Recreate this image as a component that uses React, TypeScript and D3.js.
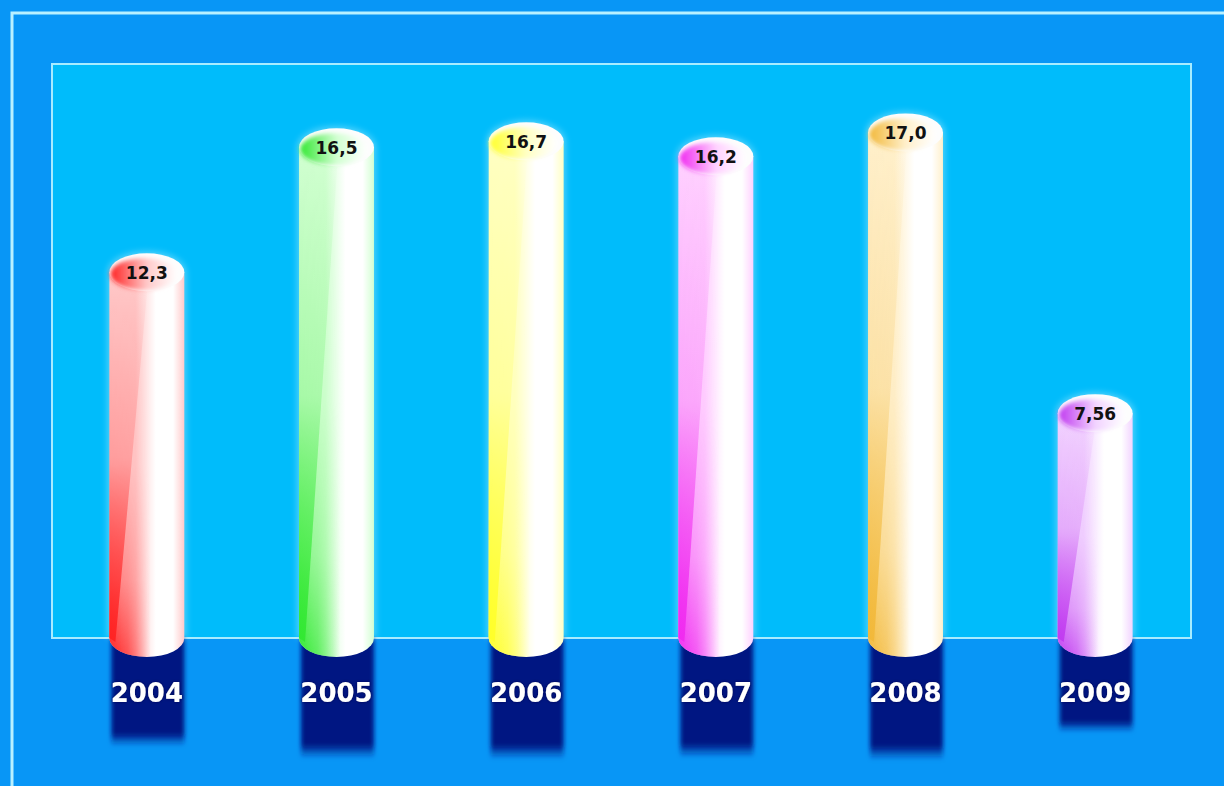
import * as d3 from 'd3'

const years = ['2004', '2005', '2006', '2007', '2008', '2009']
const values = [12.3, 16.5, 16.7, 16.2, 17.0, 7.56]
const valueLabels = ['12,3', '16,5', '16,7', '16,2', '17,0', '7,56']
const strongColors = ['#ff2020', '#30e830', '#ffff28', '#f028f0', '#f2b838', '#c038f0']
const paleColors = ['#ffcaca', '#d2ffd2', '#ffffc4', '#ffd2ff', '#fff0cc', '#f2d4ff']

const W = 1224
const H = 786
const PLOT = { left: 52, top: 64, right: 1191, bottom: 638 }

const App = () => {
  const x = d3.scaleBand<string>()
    .domain(years)
    .range([PLOT.left, 1190])
    .paddingInner(0.605)
    .paddingOuter(0.3025)
  const y = d3.scaleLinear().domain([0, 19.3]).range([PLOT.bottom, PLOT.top])
  // shadow depth below the base grows a little with the value
  const shadow = d3.scaleLinear().domain([0, 17]).range([72, 122])

  const bw = x.bandwidth()
  const ry = 19
  const base = y(0)

  return (
    <svg width={W} height={H} style={{ position: 'absolute', left: 0, top: 0 }}>
      <defs>
        <filter id="soft" x="-20%" y="-20%" width="140%" height="140%">
          <feGaussianBlur stdDeviation="2" />
        </filter>
        <filter id="glow" x="-30%" y="-30%" width="160%" height="160%">
          <feGaussianBlur stdDeviation="3" />
        </filter>
        <filter id="txtShadow" x="-20%" y="-20%" width="140%" height="140%">
          <feDropShadow dx="0" dy="0" stdDeviation="1.5" floodColor="#000850" floodOpacity="0.9" />
        </filter>
        <linearGradient id="shadowGrad" x1="0" y1="0" x2="0" y2="1">
          <stop offset="0%" stopColor="#011482" />
          <stop offset="88%" stopColor="#011482" />
          <stop offset="100%" stopColor="#011482" stopOpacity="0" />
        </linearGradient>
        <linearGradient id="maskGrad" x1="0" y1="0" x2="0" y2="1">
          <stop offset="0%" stopColor="#000" />
          <stop offset="50%" stopColor="#151515" />
          <stop offset="80%" stopColor="#777" />
          <stop offset="100%" stopColor="#fff" />
        </linearGradient>
        {years.map((yr, i) => (
          <g key={yr}>
            <linearGradient id={`body${i}`} x1="0" y1="0" x2="1" y2="0">
              <stop offset="0%" stopColor={paleColors[i]} />
              <stop offset="35%" stopColor={paleColors[i]} />
              <stop offset="62%" stopColor="#ffffff" />
              <stop offset="85%" stopColor="#ffffff" />
              <stop offset="100%" stopColor={paleColors[i]} />
            </linearGradient>
            <linearGradient id={`side${i}`} x1="0" y1="0" x2="1" y2="0">
              <stop offset="0%" stopColor={strongColors[i]} stopOpacity="1" />
              <stop offset="25%" stopColor={strongColors[i]} stopOpacity="0.7" />
              <stop offset="55%" stopColor={strongColors[i]} stopOpacity="0" />
            </linearGradient>
            <linearGradient id={`wedge${i}`} x1="0" y1="0" x2="0" y2="1">
              <stop offset="0%" stopColor={strongColors[i]} stopOpacity="0" />
              <stop offset="50%" stopColor={strongColors[i]} stopOpacity="0.2" />
              <stop offset="100%" stopColor={strongColors[i]} stopOpacity="0.9" />
            </linearGradient>
            <linearGradient id={`cap${i}`} x1="0" y1="0" x2="1" y2="0">
              <stop offset="0%" stopColor={strongColors[i]} />
              <stop offset="55%" stopColor={paleColors[i]} />
              <stop offset="100%" stopColor="#ffffff" />
            </linearGradient>
          </g>
        ))}
      </defs>

      <rect x={0} y={0} width={W} height={H} fill="#0896f6" />
      <rect x={12} y={13} width={W + 20} height={H + 20} fill="none" stroke="#b8f0ff" strokeWidth={3} />
      <rect
        x={PLOT.left}
        y={PLOT.top}
        width={PLOT.right - PLOT.left}
        height={PLOT.bottom - PLOT.top}
        fill="#00bcfb"
        stroke="#a8ecff"
        strokeWidth={2}
      />

      {years.map((yr, i) => {
        const x0 = x(yr) as number
        const cx = x0 + bw / 2
        const top = y(values[i])
        const body = `M${x0},${top} L${x0},${base} A${bw / 2},${ry} 0 0 0 ${x0 + bw},${base} L${x0 + bw},${top}Z`
        const wedge = `M${x0},${top} L${cx + 2},${top} L${x0 + 6},${base + 4} L${x0},${base}Z`
        return (
          <g key={yr}>
            <mask id={`m${i}`} maskUnits="userSpaceOnUse" x={x0 - 5} y={top - 25} width={bw + 10} height={base - top + 50}>
              <rect x={x0 - 5} y={top} width={bw + 10} height={base - top + ry} fill="url(#maskGrad)" />
            </mask>
            {/* shadow below */}
            <rect
              x={x0 + 2}
              y={base}
              width={bw - 2}
              height={shadow(values[i])}
              fill="url(#shadowGrad)"
              filter="url(#soft)"
            />
            {/* glow */}
            <g filter="url(#glow)" opacity={0.35}>
              <rect x={x0 - 2} y={top} width={bw + 4} height={base - top} fill="#e8fbff" />
              <ellipse cx={cx} cy={top} rx={bw / 2 + 2} ry={ry + 2} fill="#e8fbff" />
            </g>
            {/* body */}
            <path d={body} fill={`url(#body${i})`} />
            <path d={body} fill={`url(#side${i})`} mask={`url(#m${i})`} />
            <path d={wedge} fill={`url(#wedge${i})`} />
            {/* top cap */}
            <ellipse cx={cx} cy={top} rx={bw / 2} ry={ry} fill="#fdfdfd" />
            <ellipse
              cx={cx - 3}
              cy={top + 2}
              rx={bw / 2 - 4}
              ry={ry - 3}
              fill={`url(#cap${i})`}
              filter="url(#soft)"
            />
            <text
              x={cx}
              y={top + 1}
              textAnchor="middle"
              dominantBaseline="central"
              fontFamily="DejaVu Sans, sans-serif"
              fontWeight="bold"
              fontSize={17}
              fill="#111"
            >
              {valueLabels[i]}
            </text>
            {/* year label */}
            <text
              x={cx}
              y={base + 55}
              textAnchor="middle"
              dominantBaseline="central"
              fontFamily="DejaVu Sans, sans-serif"
              fontWeight="bold"
              fontSize={26}
              fill="#ffffff"
              filter="url(#txtShadow)"
            >
              {yr}
            </text>
          </g>
        )
      })}
    </svg>
  )
}

export default App
